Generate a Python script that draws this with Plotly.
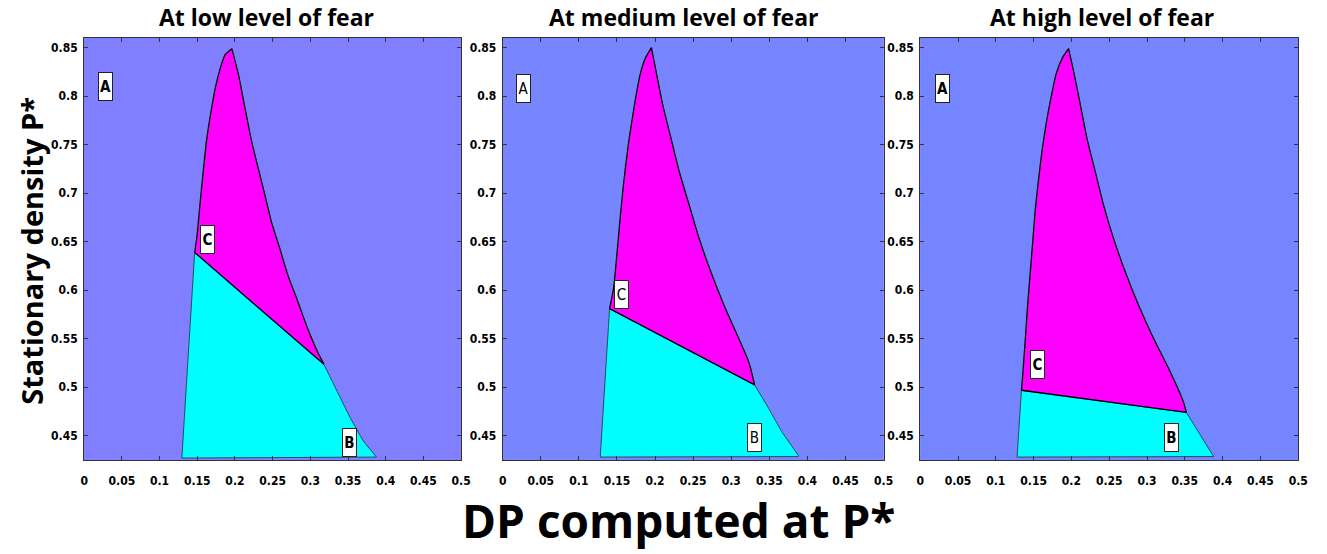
import plotly.graph_objects as go

# ---------------- data ----------------
panel_titles = ["At low level of fear", "At medium level of fear", "At high level of fear"]
x_ticks = [0, 0.05, 0.1, 0.15, 0.2, 0.25, 0.3, 0.35, 0.4, 0.45, 0.5]
x_tick_labels = ["0", "0.05", "0.1", "0.15", "0.2", "0.25", "0.3", "0.35", "0.4", "0.45", "0.5"]
y_ticks = [0.45, 0.5, 0.55, 0.6, 0.65, 0.7, 0.75, 0.8, 0.85]
y_tick_labels = ["0.45", "0.5", "0.55", "0.6", "0.65", "0.7", "0.75", "0.8", "0.85"]

# left boundary: bottom -> C point -> ... -> peak
low_left_x = [0.1296, 0.1466, 0.150, 0.1532, 0.1575, 0.1623, 0.1676, 0.1741, 0.1806, 0.1872, 0.1959]
low_left_y = [0.427, 0.639, 0.658, 0.685, 0.719, 0.754, 0.781, 0.809, 0.829, 0.843, 0.849]
# right boundary: peak -> ... -> D point -> ... -> bottom
low_right_x = [0.1959, 0.2046, 0.2133, 0.222, 0.2308, 0.2395, 0.2482, 0.2591, 0.270, 0.2831,
               0.2962, 0.3092, 0.318, 0.3354, 0.3528, 0.3703, 0.3877]
low_right_y = [0.849, 0.8225, 0.788, 0.754, 0.726, 0.699, 0.671, 0.644, 0.616, 0.589,
               0.561, 0.537, 0.5236, 0.496, 0.4686, 0.4445, 0.428]
low_c_index, low_d_index = 1, 12
low_bottom_x = [0.1296, 0.3877]
low_bottom_y = [0.427, 0.428]

med_left_x = [0.1281, 0.1403, 0.1455, 0.1498, 0.1541, 0.1584, 0.1641, 0.1693, 0.1749, 0.180, 0.1866, 0.1952]
med_left_y = [0.429, 0.581, 0.602, 0.636, 0.674, 0.708, 0.7455, 0.773, 0.800, 0.821, 0.838, 0.850]
med_right_x = [0.1952, 0.2017, 0.2104, 0.2212, 0.232, 0.245, 0.258, 0.2732, 0.2905, 0.310,
               0.323, 0.3307, 0.349, 0.3662, 0.3879]
med_right_y = [0.850, 0.824, 0.790, 0.7558, 0.7216, 0.6873, 0.653, 0.619, 0.5846, 0.550,
               0.526, 0.5024, 0.4784, 0.4544, 0.4298]
med_c_index, med_d_index = 1, 11
med_bottom_x = [0.1281, 0.3879]
med_bottom_y = [0.428, 0.4285]

high_left_x = [0.1282, 0.1339, 0.136, 0.1391, 0.1421, 0.1456, 0.1491, 0.1522, 0.1565, 0.1613,
               0.1666, 0.1731, 0.1797, 0.1884, 0.1962]
high_left_y = [0.4289, 0.4969, 0.5167, 0.5507, 0.5847, 0.6187, 0.6527, 0.6833, 0.714, 0.7446,
               0.7718, 0.799, 0.8228, 0.840, 0.849]
high_right_x = [0.1962, 0.2037, 0.2124, 0.2211, 0.232, 0.2429, 0.256, 0.2713, 0.2887, 0.3084,
                0.3302, 0.3476, 0.352, 0.3695, 0.3882]
high_right_y = [0.849, 0.8228, 0.7888, 0.7548, 0.7207, 0.6867, 0.6527, 0.6187, 0.5847, 0.5507,
                0.5167, 0.486, 0.4741, 0.452, 0.4299]
high_c_index, high_d_index = 1, 12
high_bottom_x = [0.1282, 0.3882]
high_bottom_y = [0.428, 0.4285]

# region labels (x, y) in order A, B, C
label_text = ["A", "B", "C"]
low_label_x = [0.0288, 0.3514, 0.164]
low_label_y = [0.810, 0.443, 0.652]
med_label_x = [0.0277, 0.331, 0.1557]
med_label_y = [0.808, 0.448, 0.596]
high_label_x = [0.0288, 0.3326, 0.1556]
high_label_y = [0.808, 0.448, 0.523]

panels = [
    dict(lx=low_left_x, ly=low_left_y, rx=low_right_x, ry=low_right_y, c=low_c_index, d=low_d_index,
         bx=low_bottom_x, by=low_bottom_y, labx=low_label_x, laby=low_label_y, bg="#7f7fff", bold=True),
    dict(lx=med_left_x, ly=med_left_y, rx=med_right_x, ry=med_right_y, c=med_c_index, d=med_d_index,
         bx=med_bottom_x, by=med_bottom_y, labx=med_label_x, laby=med_label_y, bg="#7786ff", bold=False),
    dict(lx=high_left_x, ly=high_left_y, rx=high_right_x, ry=high_right_y, c=high_c_index, d=high_d_index,
         bx=high_bottom_x, by=high_bottom_y, labx=high_label_x, laby=high_label_y, bg="#7585ff", bold=True),
]

# ---------------- layout geometry ----------------
W, H = 1327, 554
x_domains = [(81 / W, 462 / W), (504 / W, 889 / W), (926 / W, 1308 / W)]
title_centers = [265, 687, 1110]
y_domain = (1 - 460 / H, 1 - 38 / H)
y_range = [0.425, 0.86]
x_range = [0, 0.5]

fig = go.Figure()
layout_axes = {}
annotations = []
tick_font = dict(family="Liberation Sans Narrow, DejaVu Sans Condensed, sans-serif",
                 size=12, color="black", weight="bold")


def add_line(x, y, xa, ya, color, width, shape):
    fig.add_trace(go.Scatter(x=x, y=y, mode="lines", xaxis=xa, yaxis=ya,
                             line=dict(color=color, width=width, shape=shape, smoothing=0.6),
                             showlegend=False, hoverinfo="skip"))


for i, p in enumerate(panels):
    n = "" if i == 0 else str(i + 1)
    xa, ya = "x" + n, "y" + n
    c, d = p["c"], p["d"]
    # magenta region: C -> up left curve -> peak -> right curve -> D -> back to C
    mx = p["lx"][c:] + p["rx"][1:d + 1] + [p["lx"][c]]
    my = p["ly"][c:] + p["ry"][1:d + 1] + [p["ly"][c]]
    # cyan region: C -> D -> right lower -> bottom -> left lower -> C
    cx = [p["lx"][c]] + p["rx"][d:] + p["bx"][::-1] + p["lx"][:c + 1]
    cy = [p["ly"][c]] + p["ry"][d:] + p["by"][::-1] + p["ly"][:c + 1]
    fig.add_trace(go.Scatter(x=cx, y=cy, mode="lines", fill="toself", fillcolor="#00ffff",
                             line=dict(color="#1f5060", width=1), xaxis=xa, yaxis=ya,
                             showlegend=False, hoverinfo="skip"))
    fig.add_trace(go.Scatter(x=mx, y=my, mode="lines", fill="toself", fillcolor="#ff00ff",
                             line=dict(width=0), xaxis=xa, yaxis=ya,
                             showlegend=False, hoverinfo="skip"))
    # black outlines of the magenta region
    add_line(p["lx"][c:], p["ly"][c:], xa, ya, "black", 1.3, "spline")
    add_line(p["rx"][:d + 1], p["ry"][:d + 1], xa, ya, "black", 1.3, "spline")
    add_line([p["lx"][c], p["rx"][d]], [p["ly"][c], p["ry"][d]], xa, ya, "black", 1.3, "linear")

    common = dict(showgrid=False, zeroline=False, mirror="ticks", showline=True,
                  linecolor="#333333", linewidth=1, ticks="inside", ticklen=4,
                  tickcolor="#333333", tickfont=tick_font)
    layout_axes["xaxis" + n] = dict(domain=list(x_domains[i]), range=x_range, anchor=ya,
                                    tickvals=x_ticks, ticktext=x_tick_labels,
                                    ticklabelstandoff=10, **common)
    layout_axes["yaxis" + n] = dict(domain=list(y_domain), range=y_range, anchor=xa,
                                    tickvals=y_ticks, ticktext=y_tick_labels,
                                    ticklabelstandoff=3, **common)
    for t, lx, ly in zip(label_text, p["labx"], p["laby"]):
        annotations.append(dict(x=lx, y=ly, xref=xa, yref=ya, text=t, showarrow=False,
                                font=dict(family="Liberation Sans Narrow, DejaVu Sans Condensed, sans-serif",
                                          size=15, color="black",
                                          weight="bold" if p["bold"] else "normal"),
                                bgcolor="white", bordercolor="#222222", borderwidth=1,
                                borderpad=1, width=11, height=25))
    annotations.append(dict(x=title_centers[i] / W, y=1 - 17 / H, xref="paper", yref="paper",
                            text=panel_titles[i], showarrow=False, xanchor="center", yanchor="middle",
                            font=dict(family="Open Sans, Lato, sans-serif", size=23,
                                      color="black", weight="bold")))

annotations.append(dict(x=682 / W, y=1 - 520 / H, xref="paper", yref="paper", text="DP computed at P*",
                        showarrow=False, xanchor="center", yanchor="middle",
                        font=dict(family="Open Sans, Lato, sans-serif", size=46, color="black", weight="bold")))
annotations.append(dict(x=27 / W, y=1 - 251 / H, xref="paper", yref="paper", text="Stationary density P*",
                        showarrow=False, xanchor="center", yanchor="middle", textangle=-90,
                        font=dict(family="Open Sans, Lato, sans-serif", size=29, color="black", weight="bold")))

fig.update_layout(width=W, height=H, margin=dict(l=0, r=0, t=0, b=0),
                  paper_bgcolor="white", plot_bgcolor="#7f7fff",
                  annotations=annotations, **layout_axes)

# per-panel background colours
for i, p in enumerate(panels):
    n = "" if i == 0 else str(i + 1)
    fig.add_shape(type="rect", xref="x" + n + " domain", yref="y" + n + " domain",
                  x0=0, x1=1, y0=0, y1=1, fillcolor=p["bg"], line=dict(width=0), layer="below")

fig.write_html("out.html")
